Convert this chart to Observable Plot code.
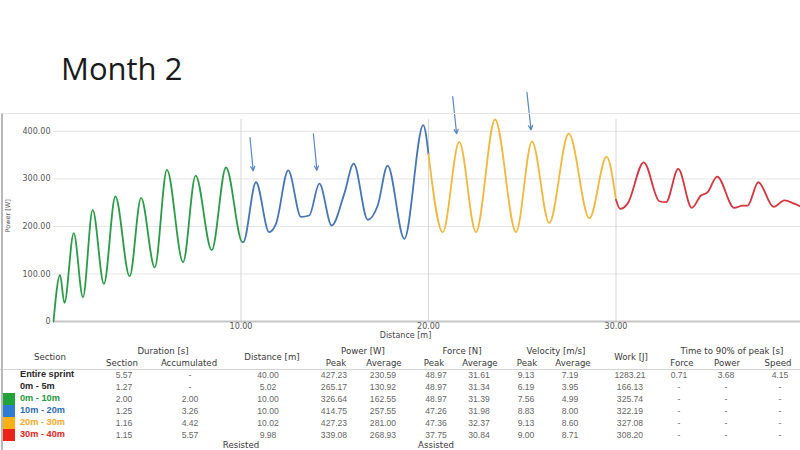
<!DOCTYPE html>
<html>
<head>
<meta charset="utf-8">
<script src="https://cdn.jsdelivr.net/npm/d3@7"></script>
<script src="https://cdn.jsdelivr.net/npm/@observablehq/plot@0.6"></script>
<style>
  html, body { margin: 0; padding: 0; background: #fff; width: 800px; height: 450px; overflow: hidden; position: relative; }
  #title { position: absolute; left: 61px; top: 53px; font-family: "Open Sans", sans-serif; font-size: 31px; line-height: 1; color: #1a1a1a; }
  #chart { position: absolute; left: 0; top: 85px; }
  #frame { position: absolute; left: 1px; top: 113px; width: 799px; height: 337px; box-sizing: border-box; border-top: 1px solid #e6e6e6; border-left: 2px solid #b8b8b8; pointer-events: none; z-index: 2; }
  .c { position: absolute; transform: translate(-50%, -50%); white-space: nowrap; line-height: 1; }
  .h { font-family: "DejaVu Sans", sans-serif; font-size: 8.6px; color: #383838; }
  .d { font-family: "Liberation Sans", Arial, sans-serif; font-size: 8.6px; color: #666; }
  .s { position: absolute; transform: translate(0, -50%); white-space: nowrap; line-height: 1; font-family: "Liberation Sans", Arial, sans-serif; font-size: 9.2px; font-weight: bold; }
  .sw { position: absolute; left: 3px; width: 12px; height: 12px; }
  #hline { position: absolute; left: 0; top: 369px; width: 800px; height: 1px; background: #d4d4d4; }
</style>
</head>
<body>
<div id="title">Month 2</div>
<div id="chart"></div>
<div id="frame"></div>
<div id="hline"></div>
<div id="table"></div>
<script>
// ---- chart data: [distance m, power W] ----
const seg0to10 = [[0,0],[0.35,98],[0.58,39],[1.08,186],[1.57,51],[2.09,235],[2.69,79],[3.30,263],[4.06,95],[4.67,260],[5.40,114],[6.05,319],[6.91,125],[7.58,307],[8.44,150],[9.20,324],[10.08,167],[10.1,167]];
const seg10to20 = [[10.1,167],[10.12,167],[10.8,293],[11.5,188],[11.87,206],[12.52,318],[13.2,220],[13.64,223],[14.18,290],[14.84,202],[15.51,269],[16.01,332],[16.76,214],[17.29,244],[17.82,328],[18.71,174],[19.72,413],[20.0,352]];
const seg20to30 = [[20.0,352],[20.76,188],[21.64,378],[22.53,188],[23.55,425],[24.67,188],[25.52,379],[26.44,207],[27.48,396],[28.58,217],[29.5,347],[30.0,256]];
const seg30to40 = [[30.0,256],[30.22,237],[30.62,248],[31.48,335],[32.31,253],[32.67,251],[33.32,321],[34.04,239],[34.53,265],[34.89,272],[35.39,305],[36.31,239],[36.76,244],[37.02,244],[37.59,293],[38.41,241],[38.98,255],[39.51,248],[39.9,241]];
const segmentNames = ["0m - 10m","10m - 20m","20m - 30m","30m - 40m"];
const lineColors = ["#2a9c48","#4676b8","#f4b73e","#d8343f"];
const yTicks = [0,100,200,300,400];
const xTicks = [10,20,30];
// annotation arrows: [x1, y1, x2, y2] in data units
const arrows = [[10.48,387,10.65,317],[13.86,395,14.05,318],[21.29,473,21.5,395],[25.25,482,25.47,403]];

// ---- table data ----
const sections = ["Entire sprint","0m - 5m","0m - 10m","10m - 20m","20m - 30m","30m - 40m"];
const durSection = ["5.57","1.27","2.00","1.25","1.16","1.15"];
const durAccum = ["-","-","2.00","3.26","4.42","5.57"];
const distance = ["40.00","5.02","10.00","10.00","10.02","9.98"];
const powerPeak = ["427.23","265.17","326.64","414.75","427.23","339.08"];
const powerAvg = ["230.59","130.92","162.55","257.55","281.00","268.93"];
const forcePeak = ["48.97","48.97","48.97","47.26","47.36","37.75"];
const forceAvg = ["31.61","31.34","31.39","31.98","32.37","30.84"];
const velPeak = ["9.13","6.19","7.56","8.83","9.13","9.00"];
const velAvg = ["7.19","3.95","4.99","8.00","8.60","8.71"];
const work = ["1283.21","166.13","325.74","322.19","327.08","308.20"];
const t90Force = ["0.71","-","-","-","-","-"];
const t90Power = ["3.68","-","-","-","-","-"];
const t90Speed = ["4.15","-","-","-","-","-"];
const sectionColors = ["#2a2a2a","#2a2a2a","#1f9a3d","#2d6db6","#f5a81f","#e2281d"];
const swatchColors = [null,null,"#22a33c","#2f7bd1","#fbb016","#ec2418"];

const segs = [seg0to10, seg10to20, seg20to30, seg30to40];
const points = segs.flatMap((s, i) => s.map(([x, y]) => ({x, y, seg: segmentNames[i]})));
const arrowData = arrows.map(([x1,y1,x2,y2]) => ({x1,y1,x2,y2}));

const chart = Plot.plot({
  width: 800,
  height: 257,
  marginTop: 34,
  marginBottom: 21,
  marginLeft: 53,
  marginRight: -3,
  style: {fontFamily: "DejaVu Sans, sans-serif", fontSize: "8px", color: "#555", background: "transparent"},
  x: {domain: [0, 40]},
  y: {domain: [0, 425]},
  color: {domain: segmentNames, range: lineColors},
  marks: [
    Plot.gridY([100,200,300,400], {stroke: "#e4e4e4", strokeOpacity: 1}),
    Plot.gridX(xTicks, {stroke: "#d6d6d6", strokeOpacity: 1}),
    Plot.ruleY([0], {stroke: "#c6c6c6", strokeWidth: 2}),
    Plot.axisY({ticks: yTicks, tickFormat: d => d === 0 ? "0" : d.toFixed(2), tickSize: 0, tickPadding: 3, label: null}),
    Plot.axisX({ticks: xTicks, tickFormat: d => d.toFixed(2), tickSize: 0, tickPadding: 2, label: null}),
    Plot.text(["Distance [m]"], {frameAnchor: "bottom", dx: -23, dy: 16, fontSize: 8, fill: "#444"}),
    Plot.text(["Power [W]"], {frameAnchor: "left", dx: -46, dy: 12, rotate: -90, fontSize: 6.5, fill: "#555"}),
    Plot.line(points, {x: "x", y: "y", z: "seg", stroke: "seg", strokeWidth: 1.8, curve: "monotone-x"}),
    Plot.arrow(arrowData, {x1: "x1", y1: "y1", x2: "x2", y2: "y2", stroke: "#5a86c4", strokeWidth: 1.2, headLength: 6, headAngle: 50})
  ]
});
document.getElementById("chart").appendChild(chart);

// ---- table layout ----
const table = document.getElementById("table");
function cell(text, cx, cy, cls, color) {
  const el = document.createElement("div");
  el.className = "c " + cls;
  el.style.left = cx + "px";
  el.style.top = cy + "px";
  if (color) el.style.color = color;
  el.textContent = text;
  table.appendChild(el);
}
// headers
cell("Section", 50, 357, "h");
cell("Duration [s]", 163, 351, "h");
cell("Section", 122, 363, "h");
cell("Accumulated", 189, 363, "h");
cell("Distance [m]", 272, 357, "h");
cell("Power [W]", 363, 351, "h");
cell("Peak", 336, 363, "h");
cell("Average", 384, 363, "h");
cell("Force [N]", 462, 351, "h");
cell("Peak", 434, 363, "h");
cell("Average", 480, 363, "h");
cell("Velocity [m/s]", 556, 351, "h");
cell("Peak", 527, 363, "h");
cell("Average", 573, 363, "h");
cell("Work [J]", 631, 357, "h");
cell("Time to 90% of peak [s]", 732, 351, "h");
cell("Force", 682, 363, "h");
cell("Power", 727, 363, "h");
cell("Speed", 778, 363, "h");

const rowY = [375, 387, 399, 411, 423, 435];
const columns = [
  [durSection, 124], [durAccum, 190], [distance, 268], [powerPeak, 334], [powerAvg, 383],
  [forcePeak, 436], [forceAvg, 479], [velPeak, 526], [velAvg, 570], [work, 630],
  [t90Force, 679], [t90Power, 726], [t90Speed, 780]
];
sections.forEach((name, i) => {
  const y = rowY[i];
  if (swatchColors[i]) {
    const sw = document.createElement("div");
    sw.className = "sw";
    sw.style.top = (y - 6) + "px";
    sw.style.background = swatchColors[i];
    table.appendChild(sw);
  }
  const lab = document.createElement("div");
  lab.className = "s";
  lab.style.left = "20px";
  lab.style.top = y + "px";
  lab.style.color = sectionColors[i];
  lab.textContent = name;
  table.appendChild(lab);
  columns.forEach(([arr, cx]) => cell(arr[i], cx, y, "d"));
});
cell("Resisted", 241, 445, "h");
cell("Assisted", 436, 445, "h");
</script>
</body>
</html>
